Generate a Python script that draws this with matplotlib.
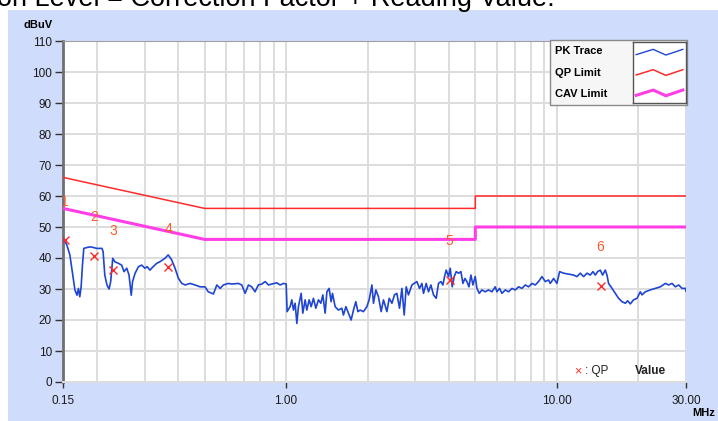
import matplotlib.pyplot as plt
from matplotlib.patches import Rectangle
from matplotlib.ticker import FixedLocator, NullFormatter

plt.rcParams['font.family'] = ['Liberation Sans', 'DejaVu Sans']

# PK trace (MHz, dBuV)
pk_freq = [
    0.150, 0.155, 0.159, 0.163, 0.166, 0.169, 0.171, 0.173, 0.175, 0.177,
    0.179, 0.184, 0.189, 0.194, 0.200, 0.209, 0.211, 0.214, 0.218, 0.222,
    0.225, 0.229, 0.233, 0.240, 0.247, 0.252, 0.258, 0.263, 0.268, 0.271,
    0.277, 0.285, 0.293, 0.301, 0.307, 0.314, 0.323, 0.333, 0.342, 0.357,
    0.367, 0.378, 0.389, 0.400, 0.412, 0.424, 0.442, 0.461, 0.481, 0.502,
    0.516, 0.539, 0.555, 0.571, 0.587, 0.612,
    0.630, 0.667, 0.686, 0.706, 0.726, 0.747, 0.768, 0.790, 0.814, 0.837,
    0.861, 0.886, 0.924, 0.951, 0.978, 1.001, 1.009, 1.035, 1.050, 1.065,
    1.080, 1.096, 1.111, 1.137, 1.153, 1.176, 1.193, 1.217, 1.238, 1.262,
    1.288, 1.317, 1.344, 1.367, 1.394, 1.415, 1.442, 1.467, 1.484, 1.518,
    1.561, 1.607, 1.629, 1.663, 1.700, 1.739, 1.774, 1.810, 1.842, 1.878,
    1.931, 1.988, 2.027, 2.075, 2.103, 2.146, 2.194, 2.245, 2.290, 2.357,
    2.404, 2.460, 2.514,
    2.566, 2.624, 2.678, 2.731, 2.778, 2.832, 2.874, 2.916, 2.973, 3.042,
    3.111, 3.175, 3.218, 3.293, 3.358, 3.427, 3.504, 3.585, 3.656, 3.732,
    3.796, 3.848, 3.904, 3.981, 4.039, 4.108, 4.179, 4.250, 4.335, 4.424,
    4.500, 4.577, 4.655, 4.736, 4.817, 4.899, 4.996, 5.069, 5.169, 5.290,
    5.440, 5.595, 5.760, 5.924, 6.010, 6.144, 6.271, 6.450, 6.633, 6.828,
    7.023, 7.223, 7.435, 7.647, 7.864, 8.095, 8.326, 8.563, 8.814, 9.066,
    9.324,
    9.459, 9.729, 10.01, 10.24, 10.59, 11.05, 11.53, 11.87, 12.21, 12.56,
    12.93, 13.29, 13.60, 13.87, 14.15, 14.47, 14.76, 15.10, 15.32, 15.53,
    15.99, 16.44, 16.91, 17.41, 17.91, 18.26, 18.68, 19.21, 19.78, 20.34,
    20.64, 21.23, 22.15, 23.11, 24.12, 25.17, 25.89, 26.64, 27.40, 28.19,
    29.01, 29.84, 30.0,
]
pk_level = [
    46.5, 44.2, 41.0, 34.5, 29.7, 28.0, 30.2, 27.5, 30.7, 37.7,
    43.1, 43.4, 43.6, 43.4, 43.1, 43.1, 42.0, 34.5, 31.3, 30.0,
    32.4, 39.9, 38.8, 38.3, 37.7, 35.6, 36.7, 34.5, 28.0, 32.4,
    35.1, 37.2, 37.7, 36.7, 37.2, 36.1, 37.2, 38.3, 38.8, 39.9,
    41.0, 39.4, 36.7, 33.5, 31.8, 31.3, 31.8, 31.3, 30.7, 30.7,
    29.1, 28.4, 31.3, 30.2, 31.3, 31.8,
    31.6, 31.8, 31.3, 28.6, 31.3, 30.7, 29.1, 31.3, 31.6, 32.4,
    31.3, 31.6, 32.0, 31.3, 31.8, 31.6, 22.7, 24.3, 26.5, 23.2,
    25.4, 18.9, 24.3, 28.6, 22.2, 26.5, 23.2, 26.5, 24.3, 27.0,
    23.8, 26.5, 25.4, 28.1, 22.2, 29.1, 30.2, 25.9, 28.6, 24.3,
    23.2, 23.8, 21.6, 24.3, 22.2, 20.0, 23.2, 25.9, 22.7, 23.2,
    22.7, 24.3, 26.5, 31.3, 25.4, 29.7, 27.5, 22.7, 26.5, 22.7,
    27.0, 25.4, 28.1,
    28.6, 23.8, 30.2, 21.6, 30.7, 28.1, 29.7, 31.3, 31.8, 32.4,
    30.2, 31.8, 28.6, 31.8, 29.1, 31.3, 28.1, 27.0, 31.8, 32.4,
    31.3, 34.0, 36.1, 34.0, 36.7, 30.7, 34.0, 35.6, 35.1, 35.6,
    31.8, 33.4, 32.4, 30.7, 34.5, 31.3, 34.0, 30.2, 28.6, 29.7,
    29.1, 29.7, 29.1, 30.7, 29.1, 30.2, 28.6, 29.7, 29.1, 30.2,
    29.7, 30.7, 30.2, 31.3, 30.7, 31.8, 31.3, 32.4, 34.0, 32.4,
    32.9,
    31.8, 33.4, 31.8, 35.6, 35.1, 34.8, 34.5, 34.0, 35.1, 34.0,
    35.1, 34.5, 35.6, 34.5, 35.6, 36.1, 34.5, 36.1, 34.5, 31.8,
    30.2, 28.6, 27.0, 25.9, 25.4, 26.2, 25.2, 26.5, 27.0, 29.1,
    28.1, 29.1, 29.7, 30.2, 30.7, 31.8, 31.3, 31.8, 30.7, 31.3,
    30.2, 30.2, 29.3,
]

# limit lines
limit_freq = [0.15, 0.5, 5.0, 5.0, 30.0]
qp_limit = [66, 56, 56, 60, 60]
cav_limit = [56, 46, 46, 50, 50]

# QP readings and their numbers
qp_freq = [0.152, 0.196, 0.230, 0.367, 4.02, 14.5]
qp_level = [45.8, 40.6, 36.1, 37.0, 32.9, 31.0]
qp_num_level = [58.0, 53.3, 48.8, 49.4, 45.5, 43.6]
qp_nums = ['1', '2', '3', '4', '5', '6']

x_ticks = [0.15, 1.0, 10.0, 30.0]
x_ticklabels = ['0.15', '1.00', '10.00', '30.00']
x_minor = [0.2, 0.3, 0.4, 0.5, 0.6, 0.7, 0.8, 0.9,
           2, 3, 4, 5, 6, 7, 8, 9, 20]

pk_color = '#1f45d2'
qp_color = '#ff2a2a'
cav_color = '#ff3ee6'

fig = plt.figure(figsize=(7.18, 4.21), dpi=100, facecolor='white')
fig.patches.append(Rectangle((8 / 718, 0), 1, (421 - 10) / 421, transform=fig.transFigure,
                             facecolor='#cfdcfb', edgecolor='none', zorder=-5))
fig.text(-3 / 718, 1 - 6 / 421, 'on Level = Correction Factor + Reading Value:',
         fontsize=19.5, va='baseline', color='black', zorder=1)

ax = fig.add_axes([63 / 718, 1 - 382 / 421, 623 / 718, 341 / 421])
ax.set_zorder(2)
ax.set_facecolor('white')
ax.set_xscale('log')
ax.set_xlim(0.15, 30)
ax.set_ylim(0, 110)

ax.xaxis.set_major_locator(FixedLocator(x_ticks))
ax.set_xticklabels(x_ticklabels)
ax.xaxis.set_minor_locator(FixedLocator(x_minor))
ax.xaxis.set_minor_formatter(NullFormatter())
ax.set_yticks(range(0, 111, 10))
ax.grid(which='both', color='#dddddd', lw=1.4, zorder=0)
ax.set_axisbelow(True)
ax.tick_params(axis='x', which='major', length=4, width=1, color='#333333',
               labelsize=8.5, labelcolor='#1a1a1a', pad=5)
ax.tick_params(axis='x', which='minor', length=0)
ax.tick_params(axis='y', length=6, width=1, color='#333333', labelsize=8.5,
               labelcolor='#1a1a1a', pad=2)
ax.spines['left'].set_color('#707070')
ax.spines['left'].set_linewidth(2)
ax.spines['top'].set_color('#a0a0a0')
ax.spines['bottom'].set_color('#dddddd')
ax.spines['bottom'].set_linewidth(1.4)
ax.spines['right'].set_visible(False)

ax.plot(limit_freq, qp_limit, color=qp_color, lw=1.1, zorder=3)
ax.plot(limit_freq, cav_limit, color=cav_color, lw=2.2, zorder=3)
ax.plot(pk_freq, pk_level, color=pk_color, lw=1.2, zorder=4)
ax.plot(qp_freq, qp_level, 'x', color=qp_color, ms=6, mew=1, zorder=5)
for f, lv, n in zip(qp_freq, qp_num_level, qp_nums):
    ax.text(f, lv, n, color='#ff5a2a', fontsize=10, ha='center', va='center',
            zorder=5, clip_on=True)

fig.text(24 / 718, 1 - 24.5 / 421, 'dBuV', fontsize=8, fontweight='bold', va='center')
fig.text(692 / 718, 1 - 413 / 421, 'MHz', fontsize=8, fontweight='bold', va='center')

ax.text(0.827, 0.032, '\u00d7', color=qp_color, fontsize=9, ha='center', va='center',
        transform=ax.transAxes)
ax.text(0.838, 0.032, ': QP', color='#222222', fontsize=8.5, va='center',
        transform=ax.transAxes)
ax.text(0.918, 0.032, 'Value', color='#222222', fontsize=8.5, fontweight='bold',
        va='center', transform=ax.transAxes)

# legend panel
ax.add_patch(Rectangle((0.782, 0.812), 0.22, 0.19, transform=ax.transAxes,
                       facecolor='#f6f6f6', edgecolor='#8a8a8a', lw=1, zorder=6,
                       clip_on=False))
leg_names = ['PK Trace', 'QP Limit', 'CAV Limit']
leg_colors = [pk_color, qp_color, cav_color]
leg_widths = [1.0, 1.1, 2.2]
leg_y = [0.970, 0.906, 0.845]
for name, yy in zip(leg_names, leg_y):
    ax.text(0.789, yy, name, fontsize=8, fontweight='bold', va='center',
            transform=ax.transAxes, zorder=7)
lax = ax.inset_axes([0.915, 0.818, 0.085, 0.179], zorder=7)
lax.set_xlim(0, 1)
lax.set_ylim(0, 3)
lax.set_xticks([])
lax.set_yticks([])
for s in lax.spines.values():
    s.set_color('#555555')
    s.set_linewidth(1)
zig_x = [0.06, 0.38, 0.62, 0.94]
zig_y = [-0.12, 0.14, -0.14, 0.14]
for i, (c, w) in enumerate(zip(leg_colors, leg_widths)):
    base = 2.5 - i
    lax.plot(zig_x, [base + d for d in zig_y], color=c, lw=w)

fig.savefig('out.png', dpi=100, facecolor='white')
